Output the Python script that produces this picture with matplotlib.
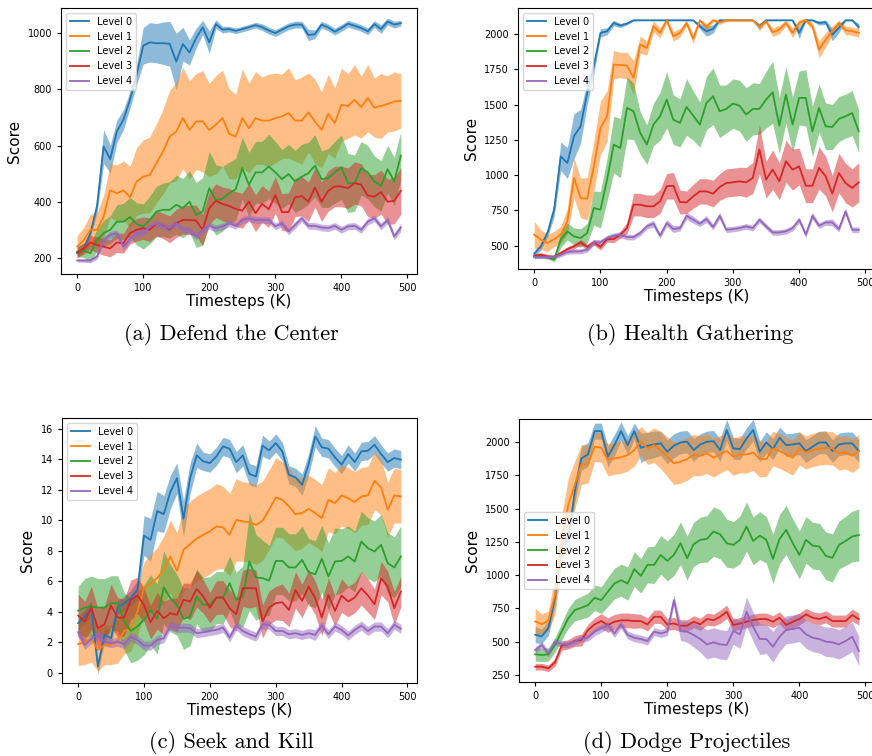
import numpy as np
import matplotlib
matplotlib.use("Agg")
import matplotlib.pyplot as plt

timesteps = list(range(0, 500, 10))
levels = ["Level 0", "Level 1", "Level 2", "Level 3", "Level 4"]
colors = ["tab:blue", "tab:orange", "tab:green", "tab:red", "tab:purple"]

# (a) Defend the Center
defend_l0 = [218, 235, 289, 384, 597, 552, 650, 692, 763, 852, 955, 967, 964, 964, 962, 899, 961, 931, 982, 1020,
             967, 1032, 1012, 1014, 1008, 1014, 1021, 1028, 1021, 1009, 1000, 1012, 1024, 1030, 1030, 993, 996, 1030, 1020, 1005,
             1018, 1033, 1026, 1018, 1006, 1032, 1014, 1041, 1030, 1035]
defend_l0_sd = [8, 10, 15, 25, 60, 50, 40, 35, 30, 35, 65, 70, 70, 75, 80, 100, 60, 45, 35, 25,
                40, 15, 12, 10, 10, 10, 10, 10, 12, 12, 12, 12, 12, 12, 12, 20, 15, 12, 12, 12,
                12, 12, 12, 12, 12, 12, 15, 12, 12, 10]
defend_l1 = [241, 265, 301, 301, 348, 441, 431, 441, 417, 473, 490, 496, 538, 579, 632, 650, 698, 656, 686, 686,
             656, 674, 698, 642, 632, 698, 662, 698, 689, 689, 698, 704, 716, 689, 689, 718, 686, 656, 713, 680,
             745, 741, 763, 737, 769, 735, 741, 748, 757, 759]
defend_l1_sd = [40, 45, 55, 60, 75, 95, 100, 105, 110, 120, 130, 135, 140, 150, 165, 175, 180, 175, 170, 180,
                165, 175, 170, 160, 150, 175, 160, 165, 155, 165, 160, 150, 160, 145, 155, 140, 150, 135, 140, 125,
                130, 115, 125, 110, 120, 105, 115, 100, 105, 97]
defend_l2 = [224, 227, 218, 265, 289, 301, 330, 330, 346, 322, 313, 336, 366, 372, 372, 390, 378, 401, 354, 366,
             449, 407, 411, 431, 445, 520, 461, 505, 505, 526, 505, 481, 499, 473, 490, 502, 529, 481, 485, 505,
             523, 467, 467, 520, 505, 473, 457, 516, 473, 564]
defend_l2_sd = [18, 25, 30, 40, 45, 50, 60, 65, 70, 75, 80, 85, 90, 95, 100, 105, 105, 110, 115, 120,
                130, 125, 115, 110, 110, 110, 115, 110, 110, 115, 110, 105, 105, 110, 115, 110, 110, 100, 105, 110,
                115, 105, 100, 95, 95, 90, 90, 85, 85, 85]
defend_l3 = [220, 235, 256, 247, 241, 235, 256, 253, 289, 301, 307, 301, 324, 315, 303, 324, 336, 336, 334, 301,
             378, 404, 393, 386, 375, 369, 401, 360, 393, 374, 425, 364, 364, 416, 421, 401, 451, 401, 439, 455,
             455, 449, 467, 461, 423, 419, 435, 401, 404, 439]
defend_l3_sd = [18, 20, 25, 28, 30, 30, 35, 35, 38, 40, 40, 42, 45, 45, 48, 50, 50, 52, 55, 55,
                58, 60, 60, 62, 62, 62, 65, 65, 65, 65, 65, 65, 68, 68, 70, 70, 70, 70, 72, 72,
                72, 72, 75, 75, 75, 78, 78, 80, 82, 83]
defend_l4 = [192, 192, 192, 206, 265, 283, 289, 241, 268, 289, 291, 313, 324, 313, 307, 324, 301, 301, 277, 301,
             315, 307, 313, 324, 315, 336, 342, 336, 336, 336, 313, 324, 295, 318, 342, 315, 315, 309, 307, 315,
             301, 313, 315, 301, 330, 342, 313, 336, 277, 309]
defend_l4_sd = [6, 6, 8, 10, 12, 12, 12, 12, 12, 12, 12, 12, 12, 12, 12, 12, 12, 12, 12, 12,
                12, 12, 12, 12, 12, 12, 12, 12, 12, 12, 12, 12, 12, 12, 12, 12, 12, 12, 12, 12,
                12, 12, 12, 12, 12, 12, 12, 12, 12, 15]

# (b) Health Gathering
health_l0 = [443, 495, 590, 755, 1133, 1086, 1275, 1346, 1582, 1771, 2008, 2019, 2078, 2060, 2074, 2097, 2097, 2097, 2097, 2097,
             2097, 2097, 2097, 2097, 2097, 2055, 2019, 2036, 2097, 2097, 2097, 2097, 2097, 2097, 2055, 2097, 2097, 2097, 2097, 2097,
             2008, 2097, 2097, 2078, 2083, 1996, 2043, 2097, 2097, 2050]
health_l0_sd = [20, 25, 30, 50, 100, 110, 160, 120, 80, 50, 30, 25, 20, 15, 10, 5, 3, 3, 3, 3,
                3, 3, 3, 3, 5, 20, 35, 30, 5, 3, 3, 3, 3, 3, 20, 5, 3, 3, 3, 3,
                40, 5, 5, 15, 15, 45, 35, 5, 5, 25]
health_l1 = [578, 543, 519, 547, 578, 672, 980, 838, 833, 1062, 1334, 1417, 1783, 1780, 1776, 1689, 1925, 1901, 2055, 2008,
             2097, 1984, 2008, 2078, 1965, 2097, 2050, 2097, 2083, 2097, 2097, 2097, 2097, 2097, 2050, 2090, 2012, 2031, 2078, 2008,
             2078, 2097, 2055, 1889, 1960, 2019, 2078, 2026, 2019, 2008]
health_l1_sd = [95, 70, 60, 55, 60, 90, 140, 140, 150, 180, 190, 180, 100, 90, 95, 120, 60, 50, 40, 35,
                20, 35, 30, 20, 35, 10, 25, 10, 15, 10, 5, 5, 5, 5, 25, 15, 30, 30, 20, 35,
                25, 15, 25, 60, 50, 35, 20, 30, 30, 30]
health_l2 = [424, 424, 420, 401, 543, 602, 566, 554, 590, 767, 755, 968, 1216, 1192, 1476, 1452, 1299, 1216, 1358, 1417,
             1535, 1393, 1370, 1483, 1422, 1358, 1511, 1559, 1452, 1469, 1507, 1492, 1429, 1469, 1469, 1535, 1587, 1351, 1570, 1358,
             1547, 1547, 1310, 1476, 1346, 1341, 1398, 1417, 1440, 1310]
health_l2_sd = [12, 12, 12, 15, 55, 60, 60, 65, 70, 120, 130, 150, 200, 210, 220, 200, 150, 140, 150, 170,
                200, 175, 170, 200, 175, 160, 190, 200, 185, 170, 175, 180, 190, 185, 180, 200, 220, 200, 200, 195,
                190, 200, 180, 170, 165, 160, 160, 155, 160, 150]
health_l3 = [429, 436, 424, 420, 448, 476, 495, 524, 491, 524, 491, 547, 547, 578, 625, 791, 791, 779, 779, 814,
             921, 925, 810, 807, 850, 885, 885, 869, 916, 944, 949, 956, 949, 980, 1181, 968, 1039, 956, 1098, 1039,
             1062, 925, 925, 1051, 992, 869, 1015, 944, 909, 949]
health_l3_sd = [15, 15, 15, 15, 15, 15, 18, 20, 20, 20, 22, 22, 25, 25, 40, 80, 80, 80, 80, 85,
                90, 95, 85, 80, 85, 90, 90, 95, 95, 100, 100, 100, 105, 110, 175, 130, 140, 130, 150, 145,
                130, 120, 120, 150, 140, 130, 140, 140, 135, 140]
health_l4 = [420, 420, 420, 420, 436, 455, 460, 460, 472, 524, 524, 554, 571, 578, 561, 561, 590, 637, 656, 571,
             661, 618, 625, 712, 684, 656, 689, 632, 712, 613, 618, 625, 637, 625, 684, 637, 594, 594, 602, 625,
             684, 578, 712, 642, 665, 665, 618, 743, 613, 613]
health_l4_sd = [12, 12, 12, 15, 15, 15, 18, 18, 18, 20, 20, 20, 20, 20, 20, 20, 20, 20, 25, 20,
                25, 25, 20, 25, 25, 20, 25, 20, 25, 20, 20, 20, 20, 20, 20, 20, 20, 20, 20, 20,
                20, 20, 25, 20, 20, 25, 20, 25, 20, 20]

# (c) Seek and Kill
seek_l0 = [3.26, 3.69, 4.20, 0.42, 2.49, 2.27, 4.28, 4.57, 4.90, 5.44, 9.0, 8.72, 10.6, 10.4, 11.85, 12.76, 10.1, 12.76, 14.25, 13.86,
           13.75, 14.19, 14.84, 14.69, 13.81, 14.25, 13.03, 12.87, 14.89, 14.58, 15.06, 14.51, 12.98, 12.81, 12.33, 13.68, 15.50, 14.78, 14.69, 14.12,
           13.64, 14.34, 13.81, 14.51, 14.56, 14.95, 14.34, 13.81, 14.08, 13.97]
seek_l0_sd = [0.45, 0.45, 0.5, 0.5, 0.5, 0.5, 0.45, 0.45, 0.5, 0.6, 1.3, 1.4, 1.3, 1.2, 1.1, 1.0, 1.2, 1.0, 0.8, 0.6,
              0.6, 0.6, 0.6, 0.6, 0.7, 0.7, 0.7, 0.7, 0.7, 0.6, 0.6, 0.6, 0.6, 0.6, 0.7, 0.7, 0.7, 0.6, 0.6, 0.6,
              0.6, 0.6, 0.6, 0.6, 0.6, 0.6, 0.6, 0.6, 0.6, 0.6]
seek_l1 = [1.88, 2.05, 2.23, 1.51, 1.84, 1.84, 2.05, 2.75, 2.93, 4.02, 5.55, 5.88, 6.21, 6.75, 7.63, 6.69, 8.07, 8.44, 8.79, 9.05,
           9.27, 9.60, 9.53, 9.05, 10.03, 9.92, 9.88, 9.70, 9.97, 10.69, 11.50, 11.34, 10.91, 10.40, 10.47, 10.75, 10.47, 10.14, 11.34, 11.13,
           11.63, 11.45, 11.19, 11.56, 11.63, 12.59, 12.15, 10.69, 11.63, 11.56]
seek_l1_sd = [1.4, 1.5, 1.5, 1.4, 1.3, 1.3, 1.4, 1.5, 1.5, 1.6, 1.7, 1.9, 2.0, 2.2, 2.4, 2.5, 2.7, 2.8, 2.8, 2.8,
              2.8, 2.8, 2.7, 2.7, 2.7, 2.6, 2.6, 2.6, 2.6, 2.6, 2.6, 2.5, 2.5, 2.4, 2.3, 2.2, 2.2, 2.2, 2.1, 2.0,
              2.0, 2.0, 2.0, 1.9, 1.9, 1.9, 1.8, 1.8, 1.8, 1.75]
seek_l2 = [4.07, 4.28, 4.35, 4.28, 4.28, 4.57, 4.57, 3.37, 2.75, 3.04, 3.48, 4.13, 3.54, 5.60, 4.90, 4.46, 3.54, 3.69, 5.01, 4.46,
           4.50, 4.94, 4.94, 5.88, 4.79, 5.01, 7.30, 6.25, 6.21, 6.05, 7.34, 7.34, 6.91, 6.91, 7.41, 6.60, 6.47, 7.48, 6.32, 7.30,
           7.34, 7.63, 7.30, 8.61, 8.17, 7.96, 8.39, 7.19, 6.91, 7.63]
seek_l2_sd = [1.6, 1.9, 2.0, 1.9, 1.9, 1.8, 1.8, 1.9, 2.1, 2.2, 2.3, 2.3, 2.3, 2.4, 2.2, 2.0, 2.0, 1.9, 1.8, 1.8,
              1.8, 1.7, 1.7, 1.8, 1.8, 2.0, 3.2, 2.8, 2.5, 2.3, 2.2, 2.2, 2.2, 2.2, 2.2, 2.2, 2.2, 2.2, 2.2, 2.2,
              2.1, 2.0, 2.0, 2.0, 2.0, 2.0, 2.0, 2.0, 2.0, 2.0]
seek_l3 = [3.76, 3.37, 4.28, 2.93, 3.19, 4.42, 3.63, 3.63, 4.79, 5.07, 4.46, 3.32, 4.07, 3.58, 3.91, 3.80, 4.79, 4.68, 5.51, 5.01,
           4.28, 4.94, 4.94, 4.24, 3.85, 5.55, 5.55, 5.55, 3.37, 4.28, 4.57, 4.63, 4.13, 5.44, 4.72, 5.66, 4.90, 3.63, 5.11, 4.07,
           5.07, 4.68, 4.94, 5.55, 5.07, 4.50, 6.21, 5.66, 4.24, 5.33]
seek_l3_sd = [1.4, 1.3, 1.4, 1.3, 1.2, 1.4, 1.3, 1.2, 1.3, 1.2, 1.1, 1.1, 1.2, 1.1, 1.0, 1.1, 1.1, 1.2, 1.2, 1.1,
              1.0, 1.1, 1.1, 1.2, 1.1, 1.2, 1.3, 1.2, 1.1, 1.1, 1.1, 1.2, 1.1, 1.2, 1.1, 1.1, 1.1, 1.2, 1.1, 1.0,
              1.1, 1.0, 1.0, 1.1, 1.1, 1.0, 1.1, 1.0, 1.1, 1.0]
seek_l4 = [2.67, 1.84, 2.23, 2.49, 2.05, 1.95, 2.05, 1.88, 2.38, 2.16, 1.79, 1.79, 2.16, 2.27, 3.10, 2.93, 2.97, 2.93, 2.60, 2.67,
           2.75, 2.82, 2.97, 2.32, 3.10, 2.75, 2.54, 2.38, 3.19, 3.15, 2.75, 2.75, 2.54, 2.60, 2.49, 2.60, 2.49, 3.10, 2.54, 3.04,
           2.82, 2.45, 2.82, 3.10, 2.75, 3.04, 3.04, 2.60, 3.15, 2.89]
seek_l4_sd = [0.3, 0.3, 0.3, 0.3, 0.3, 0.3, 0.3, 0.3, 0.3, 0.3, 0.3, 0.3, 0.3, 0.3, 0.3, 0.3, 0.3, 0.3, 0.3, 0.3,
              0.3, 0.3, 0.3, 0.3, 0.3, 0.3, 0.3, 0.3, 0.3, 0.3, 0.3, 0.3, 0.3, 0.3, 0.3, 0.3, 0.35, 0.3, 0.3, 0.3,
              0.3, 0.3, 0.3, 0.3, 0.3, 0.3, 0.3, 0.3, 0.3, 0.3]

# (d) Dodge Projectiles
dodge_l0 = [552, 540, 602, 827, 1227, 1265, 1627, 1877, 1907, 2082, 2082, 1890, 1977, 2082, 1977, 2082, 1957, 1972, 1982, 1990,
            1927, 1972, 1997, 2002, 1940, 1982, 2002, 2007, 1940, 2090, 1952, 1947, 2027, 2090, 1927, 1997, 1947, 2032, 1977, 1982,
            1990, 1932, 1965, 1997, 1997, 1932, 1982, 1990, 1990, 1932]
dodge_l0_sd = [60, 55, 55, 60, 70, 75, 80, 90, 90, 60, 60, 80, 80, 70, 70, 60, 110, 100, 100, 90,
               90, 90, 85, 85, 85, 80, 80, 80, 85, 80, 80, 80, 80, 80, 80, 80, 80, 80, 85, 85,
               85, 85, 85, 85, 85, 85, 85, 85, 85, 85]
dodge_l1 = [652, 632, 657, 852, 1252, 1527, 1677, 1832, 1832, 1965, 1957, 1865, 1877, 1885, 1902, 1940, 2007, 1952, 1977, 1940,
            1890, 1840, 1852, 1872, 1902, 1897, 1915, 1882, 1907, 1932, 1890, 1907, 1907, 1922, 1872, 1872, 1952, 1932, 1907, 1882,
            1952, 1922, 1940, 1952, 1957, 1952, 1915, 1922, 1897, 1932]
dodge_l1_sd = [100, 75, 75, 150, 190, 200, 180, 150, 140, 110, 110, 120, 120, 120, 120, 120, 110, 120, 130, 140,
               150, 160, 160, 160, 155, 150, 150, 145, 140, 140, 140, 140, 140, 135, 135, 130, 130, 130, 130, 130,
               125, 125, 125, 125, 125, 125, 125, 125, 125, 125]
dodge_l2 = [405, 400, 405, 475, 575, 675, 737, 755, 775, 830, 812, 875, 937, 962, 937, 1045, 995, 1077, 1077, 1152,
            1107, 1152, 1240, 1127, 1232, 1265, 1272, 1327, 1307, 1240, 1227, 1265, 1365, 1257, 1297, 1265, 1122, 1272, 1340, 1240,
            1152, 1265, 1222, 1215, 1145, 1130, 1227, 1257, 1290, 1302]
dodge_l2_sd = [50, 50, 50, 55, 65, 75, 80, 85, 90, 95, 100, 110, 115, 120, 125, 130, 130, 135, 140, 145,
               150, 155, 160, 165, 165, 170, 175, 185, 185, 180, 175, 180, 185, 180, 180, 175, 185, 185, 185, 180,
               180, 175, 175, 175, 180, 180, 180, 185, 190, 195]
dodge_l3 = [312, 312, 300, 345, 470, 480, 505, 512, 587, 630, 655, 625, 650, 660, 660, 655, 655, 630, 687, 687,
            630, 637, 620, 620, 650, 630, 670, 662, 687, 725, 625, 637, 650, 662, 670, 670, 650, 680, 625, 650,
            670, 705, 680, 670, 687, 655, 655, 655, 700, 670]
dodge_l3_sd = [25, 25, 25, 30, 35, 35, 40, 45, 45, 50, 55, 55, 55, 55, 55, 55, 50, 50, 50, 50,
               45, 45, 45, 45, 45, 45, 45, 45, 50, 50, 45, 45, 45, 45, 45, 45, 45, 45, 45, 45,
               45, 45, 45, 45, 45, 45, 45, 45, 45, 45]
dodge_l4 = [437, 475, 412, 500, 480, 480, 500, 525, 530, 575, 600, 625, 562, 630, 550, 530, 520, 505, 575, 562,
            575, 812, 580, 575, 550, 520, 480, 495, 480, 475, 580, 555, 725, 612, 520, 520, 462, 537, 590, 595,
            605, 555, 530, 520, 500, 495, 480, 505, 537, 430]
dodge_l4_sd = [25, 25, 25, 25, 25, 25, 25, 25, 25, 30, 30, 30, 30, 30, 30, 30, 30, 30, 30, 30,
               30, 40, 70, 80, 90, 100, 110, 110, 110, 110, 100, 105, 110, 110, 115, 110, 115, 110, 105, 105,
               105, 105, 105, 105, 110, 110, 110, 110, 110, 110]

panels = [
    ("(a) Defend the Center", [defend_l0, defend_l1, defend_l2, defend_l3, defend_l4],
     [defend_l0_sd, defend_l1_sd, defend_l2_sd, defend_l3_sd, defend_l4_sd],
     [61, 8, 417, 274], (144, 1089), [200, 400, 600, 800, 1000], "upper left", (231, 335)),
    ("(b) Health Gathering", [health_l0, health_l1, health_l2, health_l3, health_l4],
     [health_l0_sd, health_l1_sd, health_l2_sd, health_l3_sd, health_l4_sd],
     [518, 8, 875, 269], (335, 2184), [500, 750, 1000, 1250, 1500, 1750, 2000], "upper left", (690, 335)),
    ("(c) Seek and Kill", [seek_l0, seek_l1, seek_l2, seek_l3, seek_l4],
     [seek_l0_sd, seek_l1_sd, seek_l2_sd, seek_l3_sd, seek_l4_sd],
     [62, 418, 417, 683], (-0.66, 16.7), list(range(0, 17, 2)), "upper left", (231, 742)),
    ("(d) Dodge Projectiles", [dodge_l0, dodge_l1, dodge_l2, dodge_l3, dodge_l4],
     [dodge_l0_sd, dodge_l1_sd, dodge_l2_sd, dodge_l3_sd, dodge_l4_sd],
     [519, 419, 875, 682], (197, 2173), [250, 500, 750, 1000, 1250, 1500, 1750, 2000], "center left", (687, 742)),
]

W, H = 872, 756
fig = plt.figure(figsize=(W / 100, H / 100), dpi=100)

x = np.array(timesteps)
for caption, means, sds, box, ylim, yticks, loc, cap_xy in panels:
    l, t, r, b = box
    ax = fig.add_axes([l / W, 1 - b / H, (r - l) / W, (b - t) / H])
    for name, c, m, s in zip(levels, colors, means, sds):
        m = np.array(m, dtype=float)
        s = np.array(s, dtype=float)
        ax.fill_between(x, m - s, m + s, color=c, alpha=0.5, linewidth=0)
        ax.plot(x, m, color=c, lw=1.3, label=name)
    ax.set_xlim(-24.5, 514.5)
    ax.set_ylim(*ylim)
    ax.set_xticks([0, 100, 200, 300, 400, 500])
    ax.set_yticks(yticks)
    ax.tick_params(labelsize=7, length=3)
    ax.set_xlabel("Timesteps (K)", fontsize=11, labelpad=1)
    ax.set_ylabel("Score", fontsize=11)
    ax.legend(loc=loc, fontsize=7)
    fig.text(cap_xy[0] / W, 1 - cap_xy[1] / H, caption, fontfamily="cmr10",
             fontsize=16, ha="center", va="center")

fig.savefig("out.png", dpi=100)
